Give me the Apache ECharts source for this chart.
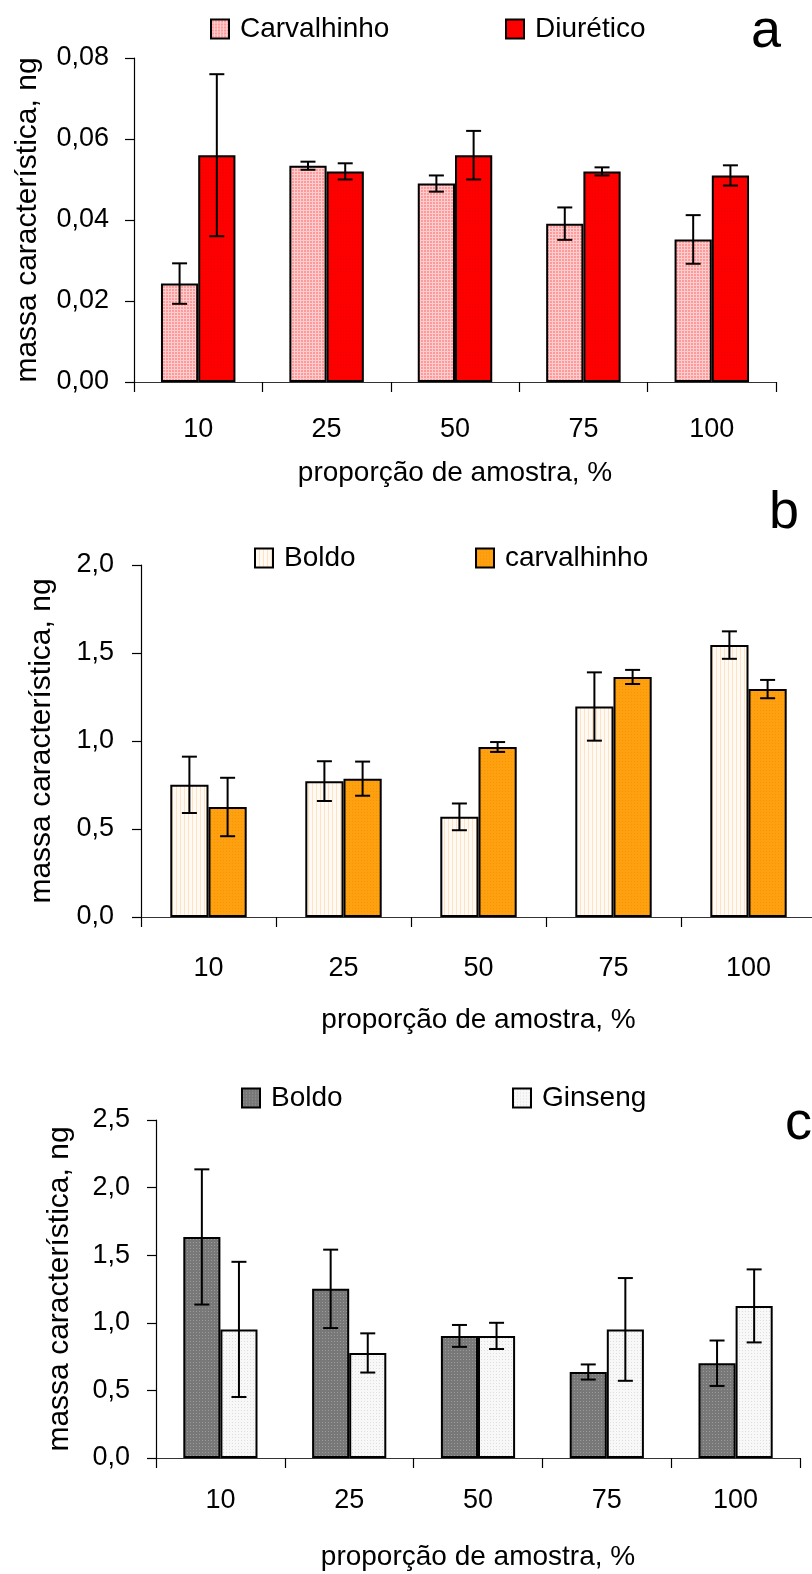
<!DOCTYPE html>
<html>
<head>
<meta charset="utf-8">
<script src="https://cdn.jsdelivr.net/npm/echarts@6/dist/echarts.min.js"></script>
<style>
  html, body { margin: 0; padding: 0; background: #fff; }
  .panel { position: absolute; left: 0; width: 812px; }
</style>
</head>
<body>
<div id="pa" class="panel" style="top:0;height:490px"></div>
<div id="pb" class="panel" style="top:490px;height:550px"></div>
<div id="pc" class="panel" style="top:1040px;height:534px"></div>
<script>
// Sample proportion (%) — shared category axis of all three panels
const categories = ['10', '25', '50', '75', '100'];

// Panel a: characteristic mass (ng), mean and standard deviation
const carvalhinhoA = [0.0243, 0.0534, 0.0490, 0.0391, 0.0352];
const carvalhinhoAErr = [0.0050, 0.0010, 0.0020, 0.0040, 0.0060];
const diureticoA = [0.0560, 0.0520, 0.0560, 0.0520, 0.0510];
const diureticoAErr = [0.0200, 0.0020, 0.0060, 0.0010, 0.0025];
const yRangeA = { min: 0, max: 0.08, interval: 0.02, decimals: 2 };

// Panel b
const boldoB = [0.751, 0.772, 0.569, 1.196, 1.545];
const boldoBErr = [0.160, 0.113, 0.076, 0.194, 0.078];
const carvalhinhoB = [0.625, 0.786, 0.966, 1.364, 1.295];
const carvalhinhoBErr = [0.166, 0.097, 0.028, 0.040, 0.052];
const yRangeB = { min: 0, max: 2.0, interval: 0.5, decimals: 1 };

// Panel c
const boldoC = [1.635, 1.251, 0.903, 0.636, 0.701];
const boldoCErr = [0.500, 0.290, 0.081, 0.056, 0.168];
const ginsengC = [0.951, 0.777, 0.903, 0.951, 1.125];
const ginsengCErr = [0.500, 0.145, 0.097, 0.380, 0.270];
const yRangeC = { min: 0, max: 2.5, interval: 0.5, decimals: 1 };

const FONT = "'Liberation Sans', Arial, sans-serif";
const yTitle = 'massa característica, ng';
const xTitle = 'proporção de amostra, %';

// Small repeating fill textures for the bars
function tile(w, h, draw) {
  const c = document.createElement('canvas');
  c.width = w; c.height = h;
  draw(c.getContext('2d'));
  return { image: c, repeat: 'repeat' };
}
const fills = {
  pinkGrid: tile(3, 3, g => {
    g.fillStyle = '#ffcdcd'; g.fillRect(0, 0, 3, 3);
    g.fillStyle = '#ff9a9a'; g.fillRect(1, 1, 2, 2);
  }),
  red: tile(3, 3, g => {
    g.fillStyle = '#ff0000'; g.fillRect(0, 0, 3, 3);
    g.fillStyle = '#ec0404'; g.fillRect(1, 1, 1, 1);
  }),
  peachStripe: tile(4, 4, g => {
    g.fillStyle = '#fffaf4'; g.fillRect(0, 0, 4, 4);
    g.fillStyle = '#ffe2c4'; g.fillRect(0, 0, 1, 4);
  }),
  orange: tile(3, 3, g => {
    g.fillStyle = '#ffa010'; g.fillRect(0, 0, 3, 3);
    g.fillStyle = '#f59500'; g.fillRect(1, 1, 1, 1);
  }),
  grayDot: tile(3, 3, g => {
    g.fillStyle = '#787878'; g.fillRect(0, 0, 3, 3);
    g.fillStyle = '#9a9a9a'; g.fillRect(1, 1, 1, 1);
  }),
  whiteDot: tile(3, 3, g => {
    g.fillStyle = '#f8f8f8'; g.fillRect(0, 0, 3, 3);
    g.fillStyle = '#dedede'; g.fillRect(1, 1, 1, 1);
  })
};

// Error bar (I-beam) drawn over the bar of series `slot` of `nSlots`
function errorBarSeries(means, errs, slot, nSlots, barFrac) {
  const data = means.map((m, i) => [i, m - errs[i], m + errs[i]]);
  return {
    type: 'custom',
    data: data,
    encode: { x: 0, y: [1, 2] },
    z: 5,
    silent: true,
    renderItem: function (params, api) {
      const i = api.value(0);
      const lo = api.coord([i, api.value(1)]);
      const hi = api.coord([i, api.value(2)]);
      const band = api.size([1, 0])[0];
      const x = lo[0] + (slot - (nSlots - 1) / 2) * band * barFrac;
      const cap = 7.5;
      const st = { stroke: '#000', lineWidth: 2 };
      return {
        type: 'group',
        children: [
          { type: 'line', shape: { x1: x, y1: hi[1], x2: x, y2: lo[1] }, style: st },
          { type: 'line', shape: { x1: x - cap, y1: hi[1], x2: x + cap, y2: hi[1] }, style: st },
          { type: 'line', shape: { x1: x - cap, y1: lo[1], x2: x + cap, y2: lo[1] }, style: st }
        ]
      };
    }
  };
}

function panelOption(cfg) {
  const barFrac = cfg.barFrac;
  const barSeries = cfg.series.map(s => ({
    type: 'bar',
    name: s.name,
    data: s.values,
    barWidth: (barFrac * 100) + '%',
    barGap: '0%',
    itemStyle: { color: s.fill, borderColor: '#000', borderWidth: 2 },
    z: 2
  }));
  const errSeries = cfg.series.map((s, k) =>
    errorBarSeries(s.values, s.errs, k, cfg.series.length, barFrac));
  return {
    animation: false,
    backgroundColor: '#fff',
    textStyle: { fontFamily: FONT, color: '#000' },
    grid: Object.assign({ containLabel: false, outerBoundsMode: 'none' }, cfg.grid),
    legend: cfg.series.map((s, k) => ({
      data: [s.name],
      left: cfg.legendLeft[k],
      top: cfg.legendTop,
      padding: 0,
      itemWidth: 18,
      itemHeight: 19,
      selectedMode: false,
      icon: 'rect',
      textStyle: { fontFamily: FONT, fontSize: 28, color: '#000', padding: [0, 0, 0, 6] }
    })),
    xAxis: {
      type: 'category',
      data: categories,
      boundaryGap: true,
      name: xTitle,
      nameLocation: 'middle',
      nameGap: cfg.xNameGap,
      nameTextStyle: { fontFamily: FONT, fontSize: 28, color: '#000' },
      axisLine: { lineStyle: { color: '#333', width: 1.2 } },
      axisTick: { show: true, length: 10, lineStyle: { color: '#000', width: 1.2 } },
      axisLabel: { fontFamily: FONT, fontSize: 27, color: '#000', margin: cfg.xLabelMargin },
      splitLine: { show: false }
    },
    yAxis: {
      type: 'value',
      min: cfg.yRange.min,
      max: cfg.yRange.max,
      interval: cfg.yRange.interval,
      name: yTitle,
      nameLocation: 'middle',
      nameGap: cfg.yNameGap,
      nameTextStyle: { fontFamily: FONT, fontSize: 30, color: '#000' },
      axisLine: { show: true, lineStyle: { color: '#000', width: 1.2 } },
      axisTick: { show: true, length: 9, lineStyle: { color: '#000', width: 1.2 } },
      axisLabel: {
        fontFamily: FONT, fontSize: 27, color: '#000', margin: cfg.yLabelMargin,
        formatter: v => v.toFixed(cfg.yRange.decimals).replace('.', ',')
      },
      splitLine: { show: false }
    },
    graphic: [{
      type: 'text',
      left: cfg.tag.x,
      top: cfg.tag.y,
      style: { text: cfg.tag.text, font: '54px ' + FONT, fill: '#000' }
    }],
    series: barSeries.concat(errSeries)
  };
}

const panels = [
  {
    el: 'pa',
    grid: { left: 134, right: 36, top: 58, bottom: 108 },
    barFrac: 0.29,
    yRange: yRangeA,
    legendLeft: [210, 505], legendTop: 15,
    xLabelMargin: 34, xNameGap: 77, yNameGap: 91, yLabelMargin: 25,
    tag: { text: 'a', x: 751, y: 5 },
    series: [
      { name: 'Carvalhinho', values: carvalhinhoA, errs: carvalhinhoAErr, fill: fills.pinkGrid },
      { name: 'Diurético', values: diureticoA, errs: diureticoAErr, fill: fills.red }
    ]
  },
  {
    el: 'pb',
    grid: { left: 141, right: -4, top: 75, bottom: 123 },
    barFrac: 0.283,
    yRange: yRangeB,
    legendLeft: [254, 475], legendTop: 54,
    xLabelMargin: 38, xNameGap: 89, yNameGap: 84, yLabelMargin: 27,
    tag: { text: 'b', x: 769, y: -4 },
    series: [
      { name: 'Boldo', values: boldoB, errs: boldoBErr, fill: fills.peachStripe },
      { name: 'carvalhinho', values: carvalhinhoB, errs: carvalhinhoBErr, fill: fills.orange }
    ]
  },
  {
    el: 'pc',
    grid: { left: 156, right: 12, top: 80, bottom: 116 },
    barFrac: 0.288,
    yRange: yRangeC,
    legendLeft: [241, 512], legendTop: 44,
    xLabelMargin: 29, xNameGap: 85, yNameGap: 81, yLabelMargin: 26,
    tag: { text: 'c', x: 785, y: 57 },
    series: [
      { name: 'Boldo', values: boldoC, errs: boldoCErr, fill: fills.grayDot },
      { name: 'Ginseng', values: ginsengC, errs: ginsengCErr, fill: fills.whiteDot }
    ]
  }
];

panels.forEach(p => {
  const chart = echarts.init(document.getElementById(p.el), null, { renderer: 'canvas' });
  chart.setOption(panelOption(p));
});
</script>
</body>
</html>
